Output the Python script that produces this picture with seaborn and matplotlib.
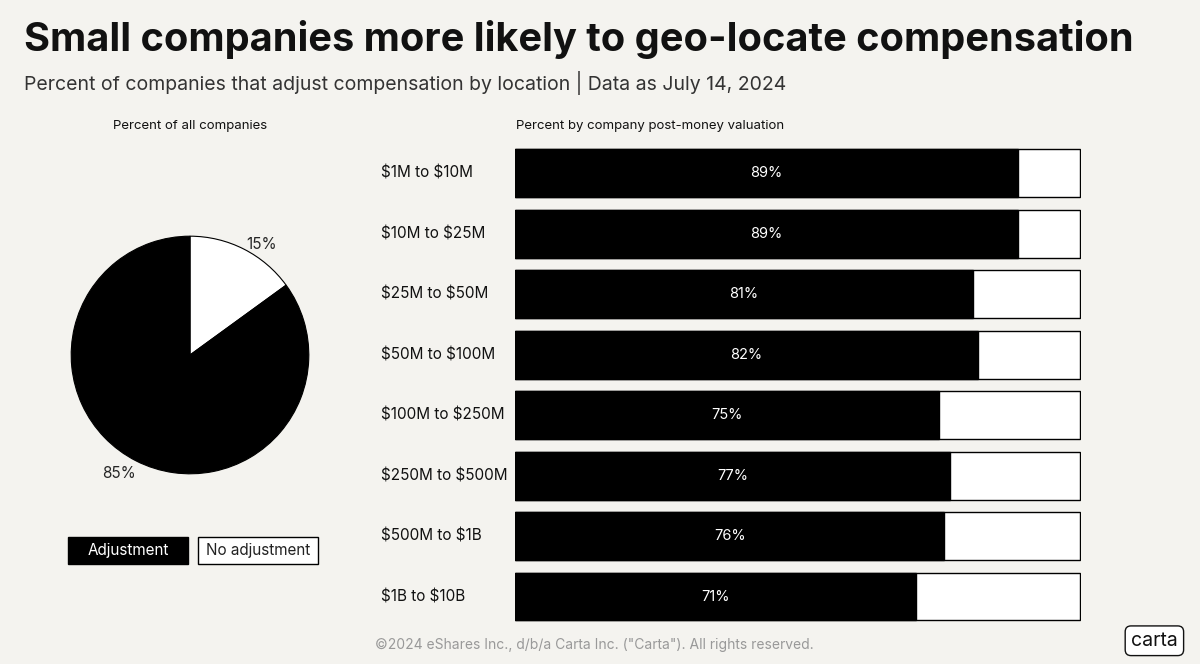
import matplotlib
matplotlib.use("Agg")
import matplotlib.pyplot as plt
import seaborn as sns
import pandas as pd
from matplotlib.patches import Rectangle

sns.set_theme(style="white")
plt.rcParams['font.family'] = ['Inter', 'DejaVu Sans']
plt.rcParams['text.parse_math'] = False

valuations = ["$1M to $10M", "$10M to $25M", "$25M to $50M", "$50M to $100M",
              "$100M to $250M", "$250M to $500M", "$500M to $1B", "$1B to $10B"]
adjust_pct = [89, 89, 81, 82, 75, 77, 76, 71]
pie_labels = ["No adjustment", "Adjustment"]
pie_values = [15, 85]

bg = "#f4f3ef"
fig = plt.figure(figsize=(12, 6.64), dpi=100, facecolor=bg)

fig.text(0.02, 0.94, "Small companies more likely to geo-locate compensation",
         fontsize=28.6, fontweight="bold", color="#111", va="center")
fig.text(0.02, 0.875, "Percent of companies that adjust compensation by location | Data as July 14, 2024",
         fontsize=14, color="#333", va="center")
fig.text(0.158, 0.81, "Percent of all companies", fontsize=9.5, ha="center", va="center", color="#111")
fig.text(0.43, 0.81, "Percent by company post-money valuation", fontsize=9.5, va="center", color="#111")

# pie
pax = fig.add_axes([70/1200, 1-475/664, 240/1200, 240/664])
pax.pie(pie_values, colors=["white", "black"], startangle=90, counterclock=False,
        wedgeprops=dict(edgecolor="black", linewidth=0.8))
pax.set_xlim(-1.01, 1.01)
pax.set_ylim(-1.01, 1.01)
pax.set_aspect("equal")
pax.text(0.6, 0.93, f"{pie_values[0]}%", fontsize=11, ha="center", va="center")
pax.text(-0.6, -1.0, f"{pie_values[1]}%", fontsize=11, ha="center", va="center")

# legend boxes
fig.patches.append(Rectangle((68/1200, 1-564/664), 120/1200, 27/664, transform=fig.transFigure,
                             facecolor="black", edgecolor="black"))
fig.text(128/1200, 1-550/664, "Adjustment", color="white", fontsize=11, ha="center", va="center")
fig.patches.append(Rectangle((198/1200, 1-564/664), 120/1200, 27/664, transform=fig.transFigure,
                             facecolor="white", edgecolor="black", linewidth=1))
fig.text(258/1200, 1-550/664, "No adjustment", color="#222", fontsize=11, ha="center", va="center")

# bars
df = pd.DataFrame({"valuation": valuations, "pct": adjust_pct, "full": [100]*len(valuations)})
ax = fig.add_axes([515/1200, 1-622/664, 566/1200, 476/664])
ax.set_facecolor(bg)
sns.barplot(data=df, y="valuation", x="full", color="white", edgecolor="black",
            linewidth=1, width=0.79, ax=ax, orient="h")
sns.barplot(data=df, y="valuation", x="pct", color="black", edgecolor="black",
            linewidth=1, width=0.79, ax=ax, orient="h")
ax.set_xlim(0, 100.2)
ax.set_ylim(7.42, -0.45)
for i, v in enumerate(adjust_pct):
    ax.text(v / 2, i, f"{v}%", color="white", fontsize=10.5, ha="center", va="center")
ax.set_xticks([])
ax.set_yticks([])
ax.set_xlabel("")
ax.set_ylabel("")
for s in ax.spines.values():
    s.set_visible(False)
for i, lab in enumerate(valuations):
    ax.text(-23.8, i, lab, fontsize=11, ha="left", va="center", color="#111")

fig.text(0.495, 0.028, "©2024 eShares Inc., d/b/a Carta Inc. (\"Carta\"). All rights reserved.",
         fontsize=10, ha="center", va="center", color="#999")
fig.text(0.962, 0.035, "carta", fontsize=14, ha="center", va="center", color="#111",
         bbox=dict(boxstyle="round,pad=0.3", facecolor="white", edgecolor="#111"))

fig.savefig("out.png", dpi=100, facecolor=bg)
